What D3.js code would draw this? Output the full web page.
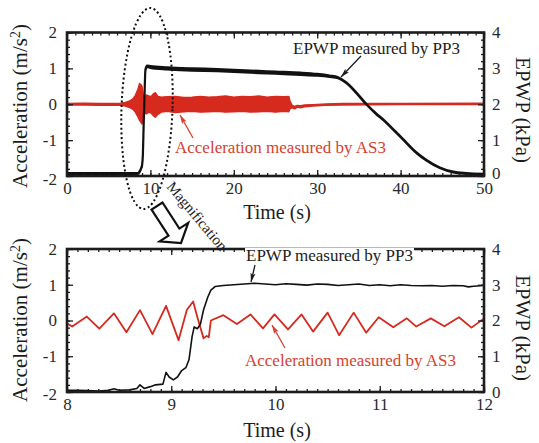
<!DOCTYPE html>
<html>
<head>
<meta charset="utf-8">
<script src="https://cdn.jsdelivr.net/npm/d3@7"></script>
<style>
  body { margin: 0; background: #fff; }
  svg { display: block; }
  svg text { font-family: "Liberation Serif", "DejaVu Serif", "Times New Roman", serif; }
</style>
</head>
<body>
<svg id="chart" width="539" height="443"></svg>
<script>
// ---------- data ----------
// Full record (0–50 s): acceleration band envelope from AS3 (m/s²)
const accTopTime = [0, 2, 4, 5.5, 6.5, 7.0, 7.5, 7.9, 8.2, 8.5, 8.7, 8.85, 9.0, 9.15, 9.3, 9.5, 9.8, 10.1, 10.4, 10.6,
  10.9, 11.3, 12, 13, 14, 15, 16, 17, 18, 19, 20, 21, 22, 23, 24, 25, 26, 26.6, 26.75, 27.0,
  27.3, 27.6, 28.0, 28.5, 29.5, 31, 33, 40, 50];
const accTopHigh = [0.02, 0.03, 0.02, 0.02, 0.03, 0.05, 0.09, 0.15, 0.25, 0.42, 0.58, 0.55, 0.5, 0.25, 0.22, 0.26, 0.23, 0.22, 0.3, 0.32,
  0.22, 0.2, 0.21, 0.22, 0.19, 0.2, 0.22, 0.2, 0.21, 0.23, 0.2, 0.22, 0.21, 0.23, 0.2, 0.22, 0.21, 0.22, 0.08, -0.03,
  -0.06, -0.03, -0.04, -0.02, -0.01, 0.01, 0.02, 0.02, 0.03];
const accTopLow = [-0.02, -0.02, -0.03, -0.02, -0.03, -0.05, -0.09, -0.14, -0.22, -0.35, -0.45, -0.5, -0.55, -0.35, -0.25, -0.27, -0.22, -0.25, -0.33, -0.36,
  -0.28, -0.22, -0.2, -0.23, -0.21, -0.2, -0.22, -0.21, -0.2, -0.22, -0.21, -0.2, -0.22, -0.21, -0.2, -0.22, -0.2, -0.21, -0.12, -0.1,
  -0.13, -0.08, -0.1, -0.07, -0.05, -0.03, -0.02, -0.01, -0.01];

// Full record: excess pore water pressure from PP3 (kPa) and its noise half-band
const epwpTopTime = [0, 4, 8.5, 8.7, 8.9, 9.0, 9.1, 9.2, 9.3, 9.4, 9.6, 10, 12, 15, 18, 20, 23, 25, 28, 30,
  31.5, 32.5, 33.5, 34.7, 35.9, 37, 38.1, 39.1, 40.3, 41.9, 43.1, 44.7, 46.3, 47.9, 50];
const epwpTopKPa = [0.07, 0.07, 0.07, 0.12, 0.22, 0.3, 0.6, 1.5, 2.3, 2.95, 3.06, 3.04, 3.0, 2.97, 2.95, 2.93, 2.9, 2.88, 2.85, 2.82,
  2.78, 2.74, 2.6, 2.32, 2.0, 1.75, 1.53, 1.3, 1.02, 0.65, 0.44, 0.23, 0.11, 0.07, 0.05];
const epwpTopNoise = [0.01, 0.01, 0.01, 0.01, 0.01, 0.01, 0.01, 0.01, 0.01, 0.015, 0.02, 0.025, 0.03, 0.03, 0.03, 0.03, 0.03, 0.03, 0.03, 0.025,
  0.02, 0.015, 0.01, 0.01, 0.01, 0.01, 0.01, 0.01, 0.01, 0.01, 0.01, 0.01, 0.01, 0.01, 0.01];

// Magnified window (8–12 s): acceleration from AS3 (m/s²)
const accZoomTime = [8.0, 8.05, 8.19, 8.31, 8.45, 8.57, 8.7, 8.82, 8.95, 9.07, 9.15, 9.21, 9.25, 9.31, 9.34, 9.36, 9.38, 9.5, 9.63, 9.76,
  9.88, 9.99, 10.12, 10.25, 10.36, 10.5, 10.61, 10.75, 10.87, 10.99, 11.13, 11.26, 11.35, 11.49, 11.62, 11.76, 11.88, 12.0];
const accZoomValue = [-0.08, -0.17, 0.11, -0.23, 0.2, -0.33, 0.29, -0.38, 0.41, -0.55, 0.3, 0.53, 0.1, -0.5, -0.43, -0.47, 0.0, 0.15, -0.1, 0.17,
  -0.22, 0.17, -0.25, 0.17, -0.31, 0.22, -0.41, 0.22, -0.34, 0.09, -0.19, 0.06, -0.17, 0.06, -0.16, 0.09, -0.2, 0.06];

// Magnified window: excess pore water pressure from PP3 (kPa)
const epwpZoomTime = [8.0, 8.1, 8.2, 8.3, 8.4, 8.45, 8.5, 8.6, 8.67, 8.7, 8.74, 8.8, 8.85, 8.92, 8.95, 8.98, 9.02, 9.06, 9.1, 9.14,
  9.17, 9.2, 9.22, 9.25, 9.28, 9.31, 9.35, 9.38, 9.42, 9.5, 9.6, 9.7, 9.8, 9.9, 10.0, 10.1, 10.2, 10.3, 10.4, 10.5,
  10.6, 10.7, 10.8, 10.9, 11.0, 11.1, 11.2, 11.3, 11.4, 11.5, 11.6, 11.7, 11.8, 11.85, 11.9, 12.0];
const epwpZoomKPa = [0.05, 0.05, 0.04, 0.03, 0.05, 0.09, 0.05, 0.06, 0.1, 0.2, 0.1, 0.15, 0.2, 0.22, 0.55, 0.42, 0.34, 0.42, 0.6, 0.68,
  0.9, 1.55, 1.82, 1.77, 1.9, 2.3, 2.65, 2.85, 2.95, 2.98, 3.0, 3.02, 3.04, 3.02, 3.0, 3.03, 3.01, 2.99, 3.02, 3.01,
  2.98, 3.0, 3.02, 2.98, 3.0, 2.97, 3.0, 2.98, 2.97, 2.98, 2.96, 2.98, 2.97, 2.94, 2.96, 2.98];

// Axis ticks
const accTicks = [-2, -1, 0, 1, 2];
const epwpTicks = [0, 1, 2, 3, 4];
const timeTicksFull = [0, 10, 20, 30, 40, 50];
const timeTicksZoom = [8, 9, 10, 11, 12];

// ---------- drawing ----------
const FONT = "Liberation Serif, DejaVu Serif, Times New Roman, serif";
const RED = "#d62a1f";
const RED_TEXT = "#d8402f";
const INK = "#1c1c1c";
const svg = d3.select("#chart");

const defs = svg.append("defs");
function marker(id, color) {
  defs.append("marker")
    .attr("id", id).attr("markerUnits", "userSpaceOnUse")
    .attr("markerWidth", 10).attr("markerHeight", 6)
    .attr("refX", 9).attr("refY", 3).attr("orient", "auto")
    .append("path").attr("d", "M0,0.4 L9,3 L0,5.6 L2,3 Z").attr("fill", color);
}
marker("headBlack", INK);
marker("headRed", RED_TEXT);

function makeTicks(domain, step) {
  const out = [];
  const n = Math.round((domain[1] - domain[0]) / step);
  for (let i = 0; i <= n; i++) out.push(+(domain[0] + i * step).toFixed(6));
  return out;
}

function serif(sel, size) {
  return sel.attr("font-family", FONT).style("font-size", size + "px");
}

function panel(p) {
  const x = d3.scaleLinear().domain(p.xDomain).range([p.left, p.right]);
  const yL = d3.scaleLinear().domain([-2, 2]).range([p.bottom, p.top]);
  const yR = d3.scaleLinear().domain([0, 4]).range([p.bottom, p.top]);
  const g = svg.append("g");

  const clipId = "clip" + p.id;
  defs.append("clipPath").attr("id", clipId)
    .append("rect").attr("x", p.left).attr("y", p.top)
    .attr("width", p.right - p.left).attr("height", p.bottom - p.top);
  const plot = g.append("g").attr("clip-path", `url(#${clipId})`);

  const fmt = d => String(d);
  const axes = [
    [d3.axisBottom(x).tickValues(makeTicks(p.xDomain, p.xMinor)).tickSize(-3).tickFormat(""), `translate(0,${p.bottom})`],
    [d3.axisTop(x).tickValues(makeTicks(p.xDomain, p.xMinor)).tickSize(-3).tickFormat(""), `translate(0,${p.top})`],
    [d3.axisTop(x).tickValues(p.xTicks).tickSize(-6).tickFormat(""), `translate(0,${p.top})`],
    [d3.axisLeft(yL).tickValues(makeTicks([-2, 2], 0.2)).tickSize(-3).tickFormat(""), `translate(${p.left},0)`],
    [d3.axisRight(yR).tickValues(makeTicks([0, 4], 0.2)).tickSize(-3).tickFormat(""), `translate(${p.right},0)`],
    [d3.axisBottom(x).tickValues(p.xTicks).tickSize(-6).tickPadding(6).tickFormat(fmt), `translate(0,${p.bottom})`, "x"],
    [d3.axisLeft(yL).tickValues(accTicks).tickSize(-6).tickPadding(10).tickFormat(fmt), `translate(${p.left},0)`, "l"],
    [d3.axisRight(yR).tickValues(epwpTicks).tickSize(-6).tickPadding(8).tickFormat(fmt), `translate(${p.right},0)`, "r"]
  ];
  const axisG = {};
  axes.forEach(([ax, tr, key]) => {
    const a = g.append("g").attr("transform", tr).call(ax);
    a.attr("font-family", FONT).attr("font-size", 17);
    a.select(".domain").remove();
    a.selectAll(".tick line").attr("stroke", INK).attr("stroke-width", 1.3);
    serif(a.selectAll(".tick text"), 17).attr("fill", "#2a2a2a");
    if (key) axisG[key] = a;
  });

  g.append("rect")
    .attr("x", p.left).attr("y", p.top)
    .attr("width", p.right - p.left).attr("height", p.bottom - p.top)
    .attr("fill", "none").attr("stroke", INK).attr("stroke-width", 2.6);

  // axis titles
  const lt = serif(g.append("text"), 21)
    .attr("transform", `translate(27,${p.leftTitleY}) rotate(-90)`)
    .attr("text-anchor", "middle").attr("fill", INK);
  lt.append("tspan").text("Acceleration (m/s");
  lt.append("tspan").text("2").attr("baseline-shift", "super").style("font-size", "14px");
  lt.append("tspan").text(")");

  serif(g.append("text"), 21)
    .attr("transform", `translate(516,${p.rightTitleY}) rotate(90)`)
    .attr("text-anchor", "middle").attr("fill", INK)
    .text("EPWP (kPa)");

  serif(g.append("text"), 20)
    .attr("x", 277).attr("y", p.timeTitleY)
    .attr("text-anchor", "middle").attr("fill", INK)
    .text("Time (s)");

  return { x, yL, yR, plot, g, axisG };
}

// ---- upper panel: whole record ----
const upper = panel({ id: "A", left: 67, right: 484, top: 32.5, bottom: 176,
  xDomain: [0, 50], xTicks: timeTicksFull, xMinor: 1,
  leftTitleY: 106, rightTitleY: 110, timeTitleY: 219 });

// nudge end labels away from the corner, as laid out on the sheet
upper.axisG.r.selectAll(".tick text").filter(d => d === 0).attr("dy", "0.12em");
upper.axisG.l.selectAll(".tick text").filter(d => d === -2).attr("dy", "0.5em");

const accTopRows = accTopTime.map((t, i) => ({ t, hi: accTopHigh[i], lo: accTopLow[i] }));
upper.plot.append("path")
  .datum(accTopRows)
  .attr("d", d3.area().x(d => upper.x(d.t)).y0(d => upper.yL(d.lo)).y1(d => upper.yL(d.hi)))
  .attr("fill", RED).attr("stroke", RED).attr("stroke-width", 1.4).attr("stroke-linejoin", "round");

const epwpTopRows = epwpTopTime.map((t, i) => ({ t, v: epwpTopKPa[i], n: epwpTopNoise[i] }));
upper.plot.append("path")
  .datum(epwpTopRows)
  .attr("d", d3.area().curve(d3.curveMonotoneX)
    .x(d => upper.x(d.t)).y0(d => upper.yR(d.v - d.n)).y1(d => upper.yR(d.v + d.n)))
  .attr("fill", "#111").attr("stroke", "#111").attr("stroke-width", 2.2).attr("stroke-linejoin", "round");

// ---- lower panel: magnified window ----
const lower = panel({ id: "B", left: 67, right: 484, top: 249, bottom: 392,
  xDomain: [8, 12], xTicks: timeTicksZoom, xMinor: 0.1,
  leftTitleY: 320, rightTitleY: 328, timeTitleY: 437 });
lower.axisG.l.selectAll(".tick text").filter(d => d === -2).attr("dy", "0.45em");

const accZoomRows = accZoomTime.map((t, i) => ({ t, v: accZoomValue[i] }));
lower.plot.append("path")
  .datum(accZoomRows)
  .attr("d", d3.line().x(d => lower.x(d.t)).y(d => lower.yL(d.v)))
  .attr("fill", "none").attr("stroke", RED).attr("stroke-width", 1.8).attr("stroke-linejoin", "round");

const epwpZoomRows = epwpZoomTime.map((t, i) => ({ t, v: epwpZoomKPa[i] }));
lower.plot.append("path")
  .datum(epwpZoomRows)
  .attr("d", d3.line().x(d => lower.x(d.t)).y(d => lower.yR(d.v)))
  .attr("fill", "none").attr("stroke", "#111").attr("stroke-width", 1.6).attr("stroke-linejoin", "round");

// ---------- annotations ----------
function label(x, y, text, color, bg) {
  const t = serif(svg.append("text"), 17).attr("x", x).attr("y", y)
    .attr("fill", color).text(text);
  if (bg) {
    const b = t.node().getBBox();
    svg.insert("rect", () => t.node())
      .attr("x", b.x - 1).attr("y", b.y + 2).attr("width", b.width + 2).attr("height", b.height - 4)
      .attr("fill", "#fff");
  }
  return t;
}
function pointer(x1, y1, x2, y2, color, head) {
  svg.append("line").attr("x1", x1).attr("y1", y1).attr("x2", x2).attr("y2", y2)
    .attr("stroke", color).attr("stroke-width", 1.3).attr("marker-end", `url(#${head})`);
}

label(293, 54, "EPWP measured by PP3", INK);
pointer(361, 56, 341, 77, INK, "headBlack");
label(175, 153, "Acceleration measured by AS3", RED_TEXT);
pointer(193, 138, 180, 115, RED_TEXT, "headRed");

label(246, 261, "EPWP measured by PP3", INK, true);
pointer(255, 265, 251, 282, INK, "headBlack");
label(245, 366, "Acceleration measured by AS3", RED_TEXT);
pointer(285, 348, 272, 325, RED_TEXT, "headRed");

// dotted ellipse marking the window that is magnified below
svg.append("ellipse")
  .attr("cx", 0).attr("cy", 0).attr("rx", 25.5).attr("ry", 100.5)
  .attr("transform", "translate(147,108.5) rotate(2)")
  .attr("fill", "none").attr("stroke", "#111").attr("stroke-width", 2)
  .attr("stroke-dasharray", "2,2.6");

// hollow block arrow towards the magnified panel
(function () {
  const tail = [157, 206], tip = [181, 243];
  const dx = tip[0] - tail[0], dy = tip[1] - tail[1];
  const L = Math.hypot(dx, dy), ux = dx / L, uy = dy / L, nx = -uy, ny = ux;
  const shaftW = 6.5, headW = 17, headL = 13;
  const bx = tip[0] - ux * headL, by = tip[1] - uy * headL;
  const pts = [
    [tail[0] + nx * shaftW, tail[1] + ny * shaftW],
    [bx + nx * shaftW, by + ny * shaftW],
    [bx + nx * headW, by + ny * headW],
    tip,
    [bx - nx * headW, by - ny * headW],
    [bx - nx * shaftW, by - ny * shaftW],
    [tail[0] - nx * shaftW, tail[1] - ny * shaftW]
  ];
  svg.append("polygon").attr("points", pts.map(p => p.join(",")).join(" "))
    .attr("fill", "#fff").attr("stroke", "#111").attr("stroke-width", 2.2).attr("stroke-linejoin", "miter");
})();

serif(svg.append("text"), 15)
  .attr("transform", "translate(166,187) rotate(50)")
  .attr("fill", INK).text("Magnification");
</script>
</body>
</html>
